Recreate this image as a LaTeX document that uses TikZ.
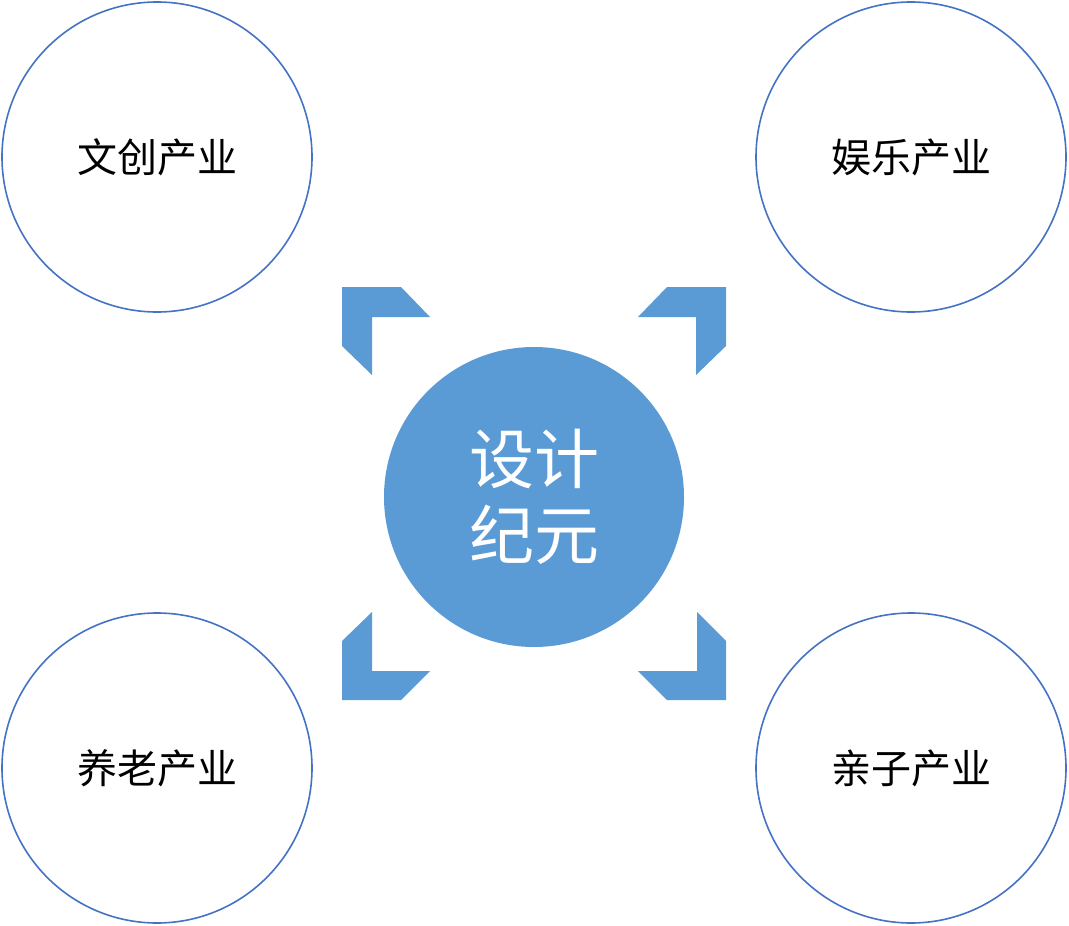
\documentclass[tikz,border=0pt]{standalone}
\usepackage{fontspec}
\newfontfamily\cjk{Noto Sans CJK SC}
\definecolor{mainblue}{HTML}{5B9BD5}
\definecolor{ringblue}{HTML}{4472C4}
\begin{document}
\begin{tikzpicture}[x=1pt,y=-1pt,
  ring/.style={circle,draw=ringblue,line width=1.6pt,fill=white,minimum size=310pt,inner sep=0pt,font=\cjk\fontsize{40}{48}\selectfont,text=black},
  hub/.style={circle,fill=mainblue,minimum size=300pt,inner sep=0pt,text=white,align=center,font=\cjk\fontsize{65}{76}\selectfont},
  bracket/.style={fill=mainblue}]
\useasboundingbox (0,0) rectangle (1069,926);
\node[ring] (tl) at (157,157) {文创产业};
\node[ring] (tr) at (911,157) {娱乐产业};
\node[ring] (bl) at (157,768) {养老产业};
\node[ring] (br) at (911,768) {亲子产业};
\node[hub] (hub) at (534,497) {设计\\纪元};
% brackets
\fill[bracket] (342,287) -- (401,287) -- (430,317) -- (372,317) -- (372,375) -- (342,346) -- cycle;
\fill[bracket] (726,287) -- (667,287) -- (638,317) -- (696,317) -- (696,375) -- (726,346) -- cycle;
\fill[bracket] (342,700) -- (401,700) -- (430,671) -- (372,671) -- (372,612) -- (342,641) -- cycle;
\fill[bracket] (726,700) -- (667,700) -- (638,671) -- (697,671) -- (697,612) -- (726,641) -- cycle;
\end{tikzpicture}
\end{document}
